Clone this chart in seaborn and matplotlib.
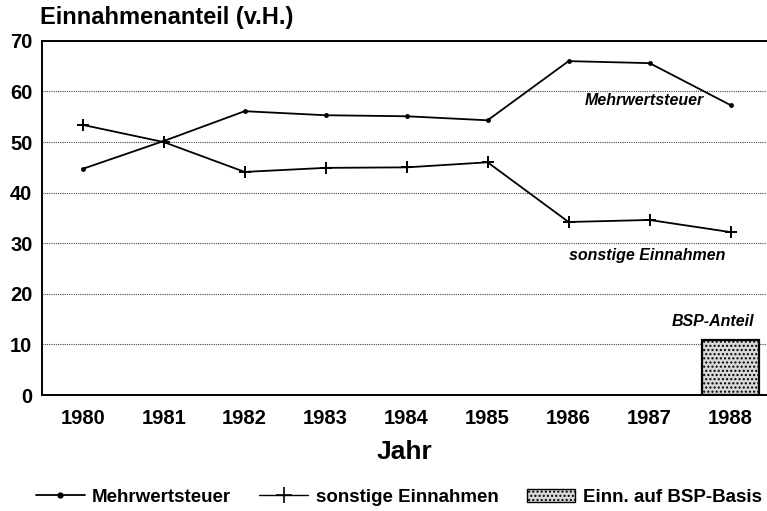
import matplotlib
matplotlib.use("Agg")
import matplotlib.pyplot as plt
import seaborn as sns
from matplotlib.lines import Line2D
from matplotlib.patches import Patch

# Anteile an den Einnahmen in v.H.
jahre = [1980, 1981, 1982, 1983, 1984, 1985, 1986, 1987, 1988]
mehrwertsteuer = [44.7, 50.2, 56.1, 55.3, 55.1, 54.3, 66.0, 65.6, 57.3]
sonstige = [53.4, 50.0, 44.1, 44.9, 45.0, 46.0, 34.2, 34.6, 32.2]
bsp_jahr = [1988]
bsp_anteil = [10.9]
y_ticks = [0, 10, 20, 30, 40, 50, 60, 70]

sns.set_theme(style="white")
plt.rcParams["font.family"] = ["Liberation Sans", "DejaVu Sans"]
plt.rcParams["font.weight"] = "bold"
plt.rcParams["text.color"] = "black"
plt.rcParams["xtick.color"] = "black"
plt.rcParams["ytick.color"] = "black"
plt.rcParams["axes.labelcolor"] = "black"

fig = plt.figure(figsize=(7.67, 5.11), dpi=100)
ax = fig.add_axes([0.055, 0.227, 0.945, 0.693])

ax.bar(bsp_jahr, bsp_anteil, width=0.7, facecolor="#d8d8d8", edgecolor="black",
       linewidth=1.6, hatch="....", zorder=2)

sns.lineplot(x=jahre, y=mehrwertsteuer, color="black", linewidth=1.3,
             marker="o", markersize=3.5, markeredgewidth=0,
             markerfacecolor="black", ax=ax, zorder=3)
sns.lineplot(x=jahre, y=sonstige, color="black", linewidth=1.3,
             marker="+", markersize=9, markeredgewidth=1.4,
             markeredgecolor="black", ax=ax, zorder=3)

ax.set_xlim(1979.5, 1988.45)
ax.set_ylim(0, 70)
ax.set_xticks(jahre)
ax.set_yticks(y_ticks)
ax.set_xticklabels([str(j) for j in jahre], fontsize=14.5, fontweight="bold")
ax.set_yticklabels([str(v) for v in y_ticks], fontsize=14.5, fontweight="bold")

for v in y_ticks[1:-1]:
    ax.axhline(v, color="#444444", linewidth=0.8, linestyle=(0, (1, 1)), zorder=1)

for side in ["left", "bottom", "top"]:
    ax.spines[side].set_visible(True)
    ax.spines[side].set_color("black")
    ax.spines[side].set_linewidth(1.4)
ax.spines["right"].set_visible(False)

ax.tick_params(axis="x", direction="in", length=6, width=1.2, color="black", pad=10)
ax.tick_params(axis="y", length=0, pad=7)

ax.set_xlabel("Jahr", fontsize=19, fontweight="bold", labelpad=9)
ax.set_ylabel("")
fig.text(0.052, 0.965, "Einnahmenanteil (v.H.)", fontsize=17, fontweight="bold",
         ha="left", va="center")

ax.text(1986.2, 58.3, "Mehrwertsteuer", fontsize=11.5, fontweight="bold",
        style="italic", ha="left", va="center")
ax.text(1986.0, 27.6, "sonstige Einnahmen", fontsize=11.5, fontweight="bold",
        style="italic", ha="left", va="center")
ax.text(1987.78, 14.5, "BSP-Anteil", fontsize=11.5, fontweight="bold",
        style="italic", ha="center", va="center")

handles = [
    Line2D([0], [0], color="black", linewidth=1.3, marker="o", markersize=3.5),
    Line2D([0], [0], color="black", linewidth=1.0, marker="+", markersize=12, markeredgewidth=1.2),
    Patch(facecolor="#d8d8d8", edgecolor="black", hatch="....", linewidth=1.0),
]
fig.legend(handles, ["Mehrwertsteuer", "sonstige Einnahmen", "Einn. auf BSP-Basis"],
           loc="center", bbox_to_anchor=(0.52, 0.027), ncol=3, frameon=False,
           prop={"size": 13.5, "weight": "bold"}, handlelength=2.6, columnspacing=1.5,
           handletextpad=0.4)

fig.savefig("out.png", dpi=100)
